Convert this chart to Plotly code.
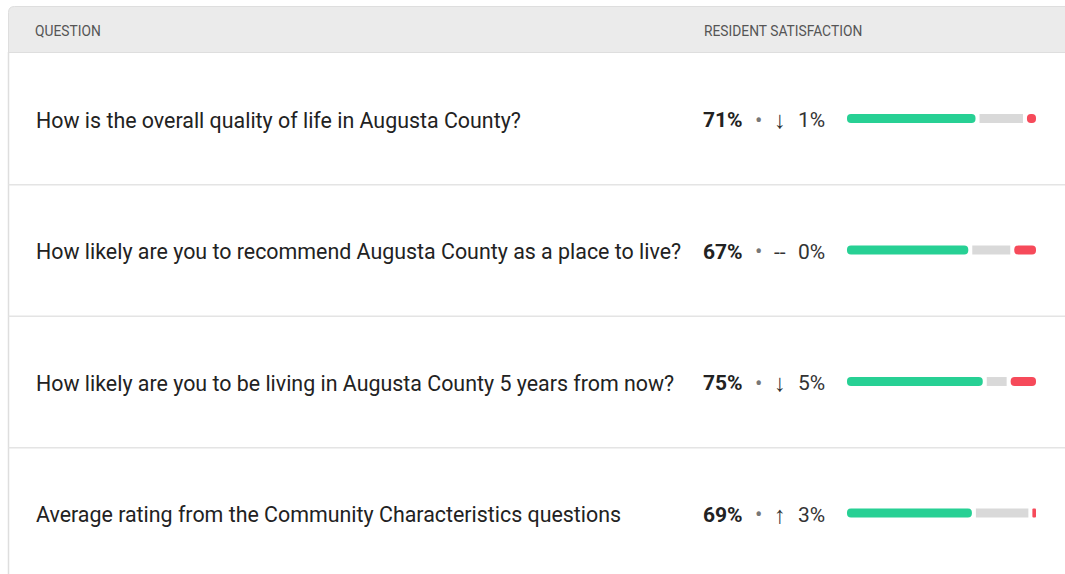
import plotly.graph_objects as go

# ---- data ----
questions = [
    "How is the overall quality of life in Augusta County?",
    "How likely are you to recommend Augusta County as a place to live?",
    "How likely are you to be living in Augusta County 5 years from now?",
    "Average rating from the Community Characteristics questions",
]
satisfaction = [71, 67, 75, 69]
neutral = [24, 21, 11, 29]
dissatisfied = [5, 12, 14, 2]
change_dir = ["↓", "--", "↓", "↑"]
change_val = [1, 0, 5, 3]
header_labels = ["QUESTION", "RESIDENT SATISFACTION"]

# ---- layout constants (pixels) ----
W, H = 1065, 574
bar_x0 = 847          # pixel where bars start
px_per_pct = 1.81     # pixels per percent
gap = 4 / px_per_pct  # gap between segments in percent units
row0_y, row_step = 118.5, 131.5

GREEN, GRAY, RED = "#27d094", "#d9d9d9", "#f64a5a"
FONT = "Roboto"

rows = list(range(len(questions)))

fig = go.Figure()

# green (drawn leftwards from its end so the rounded corner sits on the left)
fig.add_trace(go.Bar(
    y=rows, x=[-v for v in satisfaction], base=satisfaction, orientation="h",
    marker=dict(color=GREEN, cornerradius=4, line_width=0), width=0.068,
    hoverinfo="skip", showlegend=False))
fig.add_trace(go.Bar(
    y=rows, x=neutral, base=[s + gap for s in satisfaction], orientation="h",
    marker=dict(color=GRAY, cornerradius=0, line_width=0), width=0.068,
    hoverinfo="skip", showlegend=False))
fig.add_trace(go.Bar(
    y=rows, x=dissatisfied, base=[s + n + 2 * gap for s, n in zip(satisfaction, neutral)],
    orientation="h",
    marker=dict(color=RED, cornerradius=4, line_width=0), width=0.068,
    hoverinfo="skip", showlegend=False))

x_range = [-bar_x0 / px_per_pct, (W - bar_x0) / px_per_pct]
y_range = [(H - row0_y) / row_step, -row0_y / row_step]

fig.update_layout(
    width=W, height=H, margin=dict(l=0, r=0, t=0, b=0),
    paper_bgcolor="white", plot_bgcolor="rgba(0,0,0,0)",
    barmode="overlay",
    xaxis=dict(range=x_range, visible=False, fixedrange=True),
    yaxis=dict(range=y_range, visible=False, fixedrange=True),
    font=dict(family=FONT, color="#222222"),
)

def px(x):
    return x / W

def py(y):
    return 1 - y / H

shapes = []
# header background with rounded top-left corner
r = 6
shapes.append(dict(
    type="path", xref="paper", yref="paper",
    path=(f"M {px(8.5)},{py(52.5)} L {px(8.5)},{py(6.5 + r)} "
          f"Q {px(8.5)},{py(6.5)} {px(8.5 + r)},{py(6.5)} "
          f"L {px(W + 2)},{py(6.5)} L {px(W + 2)},{py(52.5)} Z"),
    fillcolor="#ebebeb", line=dict(color="#dedede", width=1), layer="below"))
# left border
shapes.append(dict(type="line", xref="paper", yref="paper",
                   x0=px(8.5), x1=px(8.5), y0=py(52), y1=py(H),
                   line=dict(color="#dedede", width=1.5), layer="below"))
# row separators
for i in rows[1:]:
    ysep = row0_y + row_step * (i - 0.5) + 0.5
    shapes.append(dict(type="line", xref="paper", yref="paper",
                       x0=px(8.5), x1=px(W), y0=py(ysep), y1=py(ysep),
                       line=dict(color="#e4e4e4", width=1.5), layer="below"))

annotations = []
annotations.append(dict(text=header_labels[0], x=px(33), y=py(31), xref="paper", yref="paper",
                        xanchor="left", yanchor="middle", showarrow=False,
                        font=dict(size=13.8, color="#555555", family=FONT)))
annotations.append(dict(text=header_labels[1], x=px(702), y=py(31), xref="paper", yref="paper",
                        xanchor="left", yanchor="middle", showarrow=False,
                        font=dict(size=13.8, color="#555555", family=FONT)))

for i, q in enumerate(questions):
    yc = row0_y + row_step * i + 1.5
    annotations.append(dict(text=q, x=px(33.5), y=py(yc), xref="paper", yref="paper",
                            xanchor="left", yanchor="middle", showarrow=False,
                            font=dict(size=21.4, color="#222222", family=FONT)))
    annotations.append(dict(text=f"<b>{satisfaction[i]}%</b>", x=px(701), y=py(yc),
                            xref="paper", yref="paper", xanchor="left", yanchor="middle",
                            showarrow=False, font=dict(size=21, color="#222222", family=FONT)))
    annotations.append(dict(text="•", x=px(758), y=py(yc), xref="paper", yref="paper",
                            xanchor="center", yanchor="middle", showarrow=False,
                            font=dict(size=22, color="#777777", family=FONT)))
    annotations.append(dict(text=change_dir[i], x=px(780), y=py(yc), xref="paper", yref="paper",
                            xanchor="center", yanchor="middle", showarrow=False,
                            font=dict(size=24 if change_dir[i] != "--" else 21,
                                      color="#333333", family=FONT)))
    annotations.append(dict(text=f"{change_val[i]}%", x=px(795.5), y=py(yc), xref="paper", yref="paper",
                            xanchor="left", yanchor="middle", showarrow=False,
                            font=dict(size=21, color="#333333", family=FONT)))

fig.update_layout(shapes=shapes, annotations=annotations)

fig.write_html("out.html", config={"displayModeBar": False},
               post_script="document.body.style.margin='0';document.body.style.overflow='hidden';")
